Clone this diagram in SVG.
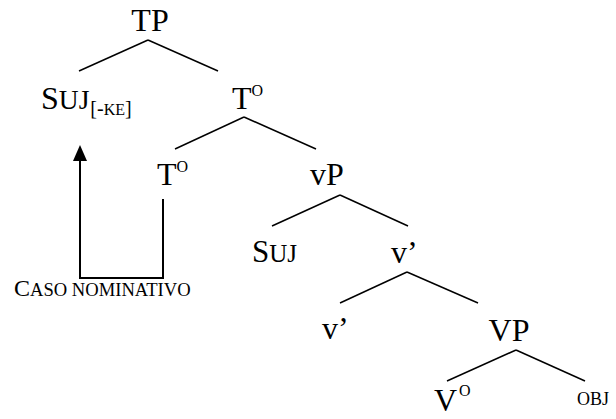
<svg xmlns="http://www.w3.org/2000/svg" width="616" height="419" viewBox="0 0 616 419" font-family="'Liberation Serif','Times New Roman',serif">
<style>
text{font-family:"Liberation Serif","Times New Roman",serif;fill:#000}
.n{font-size:32px}
.sc{font-size:27.5px}
.sup{font-size:16px}
line,path{stroke:#000;stroke-width:1.5;fill:none}
</style>
<g id="connectors">
<line x1="148" y1="40" x2="79" y2="71"/>
<line x1="148" y1="40" x2="218" y2="71"/>
<line x1="244" y1="117" x2="175" y2="149"/>
<line x1="244" y1="117" x2="316" y2="149"/>
<line x1="340" y1="195" x2="272" y2="226"/>
<line x1="340" y1="195" x2="408" y2="226"/>
<line x1="407" y1="272" x2="340" y2="303"/>
<line x1="407" y1="272" x2="478" y2="303"/>
<line x1="516" y1="350" x2="447" y2="381"/>
<line x1="516" y1="350" x2="585" y2="381"/>
</g>
<g id="arrow">
<path d="M163,199 V278 H80 V160" style="stroke-width:2"/>
<path d="M73,161 L80,145 L87,161 Z" style="fill:#000;stroke:none"/>
</g>
<g id="TP"><text class="n" x="150" y="31" text-anchor="middle">TP</text></g>
<g id="SUJ-KE"><text x="41" y="109"><tspan font-size="32">S</tspan><tspan class="sc">UJ</tspan><tspan font-size="20" dx="1" dy="6">[-</tspan><tspan font-size="16">KE</tspan><tspan font-size="20">]</tspan></text></g>
<g id="T1"><text x="232" y="109"><tspan class="n">T</tspan><tspan class="sup" dy="-13">O</tspan></text></g>
<g id="T2"><text x="157" y="185"><tspan class="n">T</tspan><tspan class="sup" dy="-13">O</tspan></text></g>
<g id="vP"><text class="n" x="327" y="185" text-anchor="middle">vP</text></g>
<g id="SUJ"><text x="252" y="262"><tspan font-size="31">S</tspan><tspan font-size="25">UJ</tspan></text></g>
<g id="vbar1"><text class="n" x="391" y="263">v’</text></g>
<g id="vbar2"><text class="n" x="322" y="339">v’</text></g>
<g id="VP"><text class="n" x="509" y="341" text-anchor="middle">VP</text></g>
<g id="V0"><text x="434" y="411"><tspan class="n">V</tspan><tspan class="sup" dx="2" dy="-15">O</tspan></text></g>
<g id="OBJ"><text x="577" y="405" font-size="18">OBJ</text></g>
<g id="caso"><text x="14" y="296"><tspan font-size="24">C</tspan><tspan font-size="18.6">ASO NOMINATIVO</tspan></text></g>
</svg>
